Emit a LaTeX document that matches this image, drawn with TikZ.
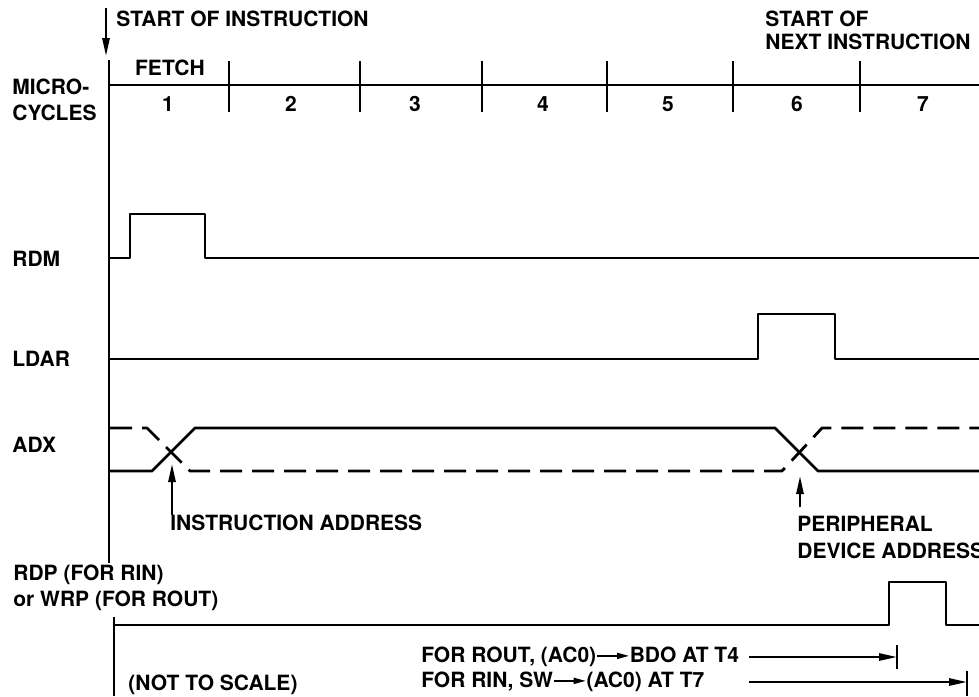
\documentclass[tikz,border=0pt]{standalone}
\usepackage{fontspec}
\setmainfont{TeX Gyre Heros}
\usetikzlibrary{arrows.meta, positioning}

\newcommand{\toarrow}{\tikz[baseline=-0.6ex]\draw[line width=0.8pt,-{Triangle[length=6pt,width=3pt]}] (0pt,0pt) -- (16pt,0pt);}

\tikzset{
    sig/.style={line width=1.4pt, line join=round},
    adr/.style={sig, dash pattern=on 11pt off 5pt},
    lbl/.style={font=\bfseries\fontsize{10.5}{12.5}\selectfont, inner sep=0pt, anchor=west},
    num/.style={font=\bfseries\fontsize{10.5}{12.5}\selectfont, inner sep=0pt},
    pointer/.style={line width=1.1pt, -{Triangle[length=9pt,width=3.6pt]}},
}

\begin{document}
\begin{tikzpicture}[x=0.5pt, y=-0.5pt]
  \useasboundingbox (0,0) rectangle (979,696);

  % Zeitachse
  \draw[sig] (109,60) -- (109,563);
  \draw[sig] (114,617) -- (114,696);
  \draw[sig] (109,85) -- (979,85);
  \foreach \x in {229,360,482,607,733,860}
    \draw[sig] (\x,61) -- (\x,112);
  \foreach \x/\n in {168/1,291/2,415/3,543/4,668/5,797/6,923/7}
    \node[num] (cyc\n) at (\x,104) {\n};
  \node[num] (fetch) at (170,68) {FETCH};

  % Start der Befehle
  \coordinate (startTop) at (106,8);
  \coordinate (startTip) at (106,56);
  \draw[pointer] (startTop) -- (startTip);
  \node[lbl] (start) at (116,19) {START OF INSTRUCTION};
  \node[lbl, align=left] (next) at (765,30) {START OF\\[-1pt]NEXT INSTRUCTION};

  % Signalnamen
  \node[lbl, align=left] (micro) at (12,100) {MICRO-\\[0.5pt]CYCLES};
  \node[lbl] (rdm) at (12,259) {RDM};
  \node[lbl] (ldar) at (12,359) {LDAR};
  \node[lbl] (adx) at (12,445) {ADX};
  \node[lbl, align=left] (rdp) at (13,588) {RDP (FOR RIN)\\[0.5pt]or WRP (FOR ROUT)};

  % RDM
  \draw[sig] (110,258) -- (130,258) -- (130,214) -- (205,214) -- (205,258) -- (979,258);

  % LDAR
  \draw[sig] (110,359) -- (758,359) -- (758,314) -- (835,314) -- (835,359) -- (979,359);

  % ADX
  \draw[sig] (110,471) -- (152,471) -- (195,428) -- (775,428) -- (818,471) -- (979,471);
  \draw[adr] (110,428) -- (147,428) -- (190,471) -- (782,471) -- (822,428) -- (979,428);

  \coordinate (insTip) at (172,464);
  \node[lbl] (insAddr) at (170,523) {INSTRUCTION ADDRESS};
  \draw[pointer] (insAddr.north -| insTip) -- (insTip);

  \coordinate (perTip) at (800,476);
  \node[lbl, align=left] (perAddr) at (797,537) {PERIPHERAL\\[1pt]DEVICE ADDRESS};
  \draw[pointer] ([yshift=4pt]perAddr.north -| perTip) -- (perTip);

  % RDP / WRP
  \draw[sig] (114,625) -- (889,625) -- (889,582) -- (946,582) -- (946,625) -- (979,625);

  % Hinweise unten
  \node[lbl] (scale) at (128,685) {(NOT TO SCALE)};
  \node[lbl] (rout) at (421,657) {FOR ROUT, (AC0)\toarrow BDO AT T4};
  \node[lbl] (rin) at (421,682) {FOR RIN, SW\toarrow(AC0) AT T7};

  \coordinate (t4) at (897,657);
  \coordinate (t7) at (967,682);
  \draw[pointer] ([xshift=5pt]rout.east) -- (t4);
  \draw[pointer] ([xshift=5pt]rout.east |- rin.east) -- (t7);
  \draw[sig] (897,645) -- (897,669);
  \draw[sig] (967,671) -- (967,696);

\end{tikzpicture}
\end{document}
